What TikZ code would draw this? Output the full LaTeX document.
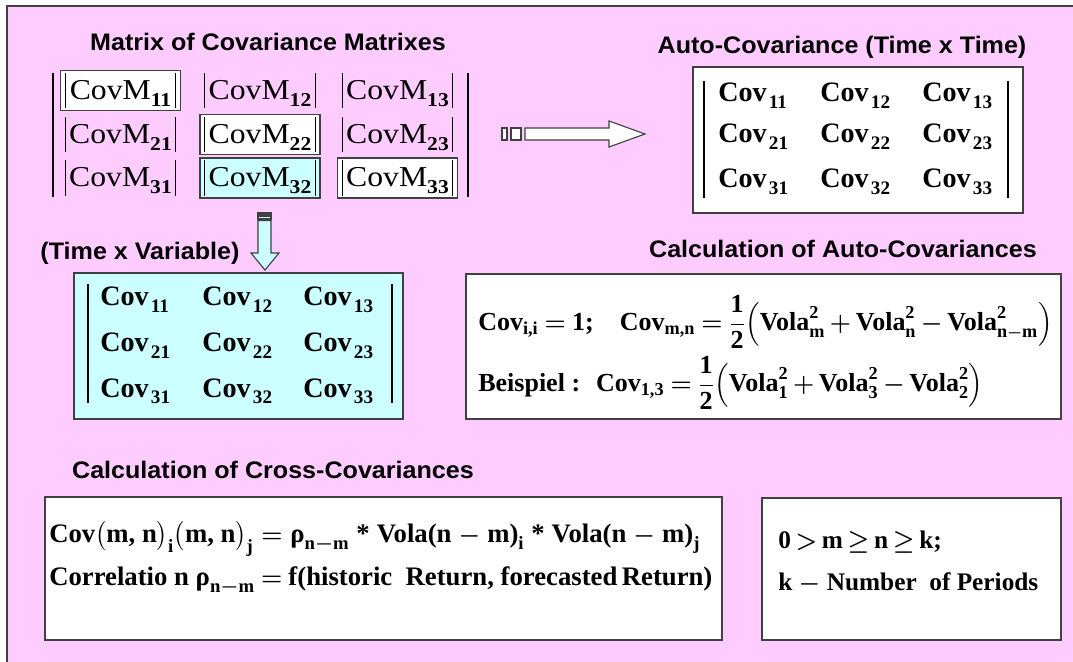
\documentclass[tikz,border=0pt]{standalone}
\usepackage{fontspec}
\usepackage{amsmath}
\setmainfont{Liberation Serif}
\newfontfamily\cellfont{Liberation Serif}[FakeStretch=1.1]
\newfontfamily\headfont{Liberation Sans}[FakeStretch=1.05]
\usetikzlibrary{positioning}

\definecolor{bgpink}{HTML}{FFCCFF}
\definecolor{paleCyan}{HTML}{CCFFFF}
\definecolor{frame}{HTML}{404040}

% cell helpers
\newcommand{\vbar}{\rule[-0.3em]{0.7pt}{1.22em}}
\newcommand{\lo}[1]{\raisebox{-0.24em}{\scalebox{0.68}{\bfseries #1}}}
\newcommand{\cvm}[1]{\vbar\hspace{0.12em}CovM\lo{#1}\hspace{0.12em}\vbar}
\newcommand{\cv}[1]{Cov\hspace{0.08em}\lo{#1}}
\newcommand{\tx}[1]{\text{#1}}
\newcommand{\tightmath}{\thickmuskip=3mu\relax\medmuskip=2mu\relax}
\newcommand{\loosemath}{\thickmuskip=4mu\relax\medmuskip=3mu\relax}
\newcommand{\widemath}{\thickmuskip=5mu\relax\medmuskip=4.5mu\relax}

\begin{document}
\begin{tikzpicture}[
    x=0.025cm, y=-0.025cm,
    head/.style={inner sep=0pt, font=\headfont\bfseries\fontsize{17}{19}\selectfont},
    cell/.style={minimum width=3cm, minimum height=1cm, inner sep=0pt,
                 font=\cellfont\fontsize{20.5}{22}\selectfont},
    cellbox/.style={cell, draw=frame, line width=0.9pt, fill=white},
    entry/.style={anchor=base west, inner sep=0pt,
                  font=\bfseries\fontsize{20}{22}\selectfont},
    panel/.style={draw=frame, line width=0.9pt, fill=white, inner sep=0pt},
    formula/.style={anchor=west, inner sep=0pt,
                    font=\bfseries\fontsize{18.5}{20}\selectfont\boldmath\loosemath},
    crossformula/.style={formula,
                    font=\bfseries\fontsize{19}{21}\selectfont\boldmath\widemath},
    periodtext/.style={formula,
                    font=\bfseries\fontsize{18}{20}\selectfont\boldmath\tightmath},
    bar/.style={draw=black, line width=0.8pt},
    blockarrow/.style={draw=frame, line width=0.8pt},
  ]

  % page and pink frame
  \fill[white] (0,0) rectangle (1073,662);
  \useasboundingbox (0,0) rectangle (1073,662);
  \fill[bgpink] (7,6) rectangle (1073,662);
  \draw[frame, line width=1pt] (7,662) -- (7,6) -- (1073,6);

  % titles
  \node[head] (tmatrix) at (268,42) {Matrix of Covariance Matrixes};
  \node[head] (tauto)   at (842,47) {Auto-Covariance (Time x Time)};
  \node[head] (tvar)    at (140,253) {(Time x Variable)};
  \node[head] (tcalc)   at (843,249) {Calculation of Auto-Covariances};
  \node[head] (tcross)  at (273,470) {Calculation of Cross-Covariances};

  % matrix of covariance matrixes
  \node[cellbox] (cm11) at (120.5,90.5) {\cvm{11}};
  \node[cell]    (cm12) at (260,90.5)   {\cvm{12}};
  \node[cell]    (cm13) at (397.5,90.5) {\cvm{13}};
  \node[cell]    (cm21) at (120.5,134.5) {\cvm{21}};
  \node[cellbox] (cm22) at (260,134.5)   {\cvm{22}};
  \node[cell]    (cm23) at (397.5,134.5) {\cvm{23}};
  \node[cell]    (cm31) at (120.5,178)   {\cvm{31}};
  \node[cellbox, fill=paleCyan] (cm32) at (260,178) {\cvm{32}};
  \node[cellbox] (cm33) at (397.5,178)   {\cvm{33}};
  \draw[bar] (53,73) -- (53,197);
  \draw[bar] (468,73) -- (468,197);

  % block arrow to the right
  \draw[blockarrow, fill=white] (502,128) rectangle (507,140);
  \draw[blockarrow, fill=white] (511,128) rectangle (521,140);
  \draw[blockarrow, fill=white] (525,128) -- (609,128) -- (609,121) -- (645,134)
    -- (609,147) -- (609,140) -- (525,140) -- cycle;

  % auto-covariance (time x time)
  \node[panel, minimum width=8.25cm, minimum height=3.65cm] (autobox) at (858,140) {};
  \draw[bar] (704,81) -- (704,198);
  \draw[bar] (1008,81) -- (1008,198);
  \node[entry] (a11) at (718,102) {\cv{11}};
  \node[entry] (a12) at (820,102) {\cv{12}};
  \node[entry] (a13) at (922,102) {\cv{13}};
  \node[entry] (a21) at (718,143) {\cv{21}};
  \node[entry] (a22) at (820,143) {\cv{22}};
  \node[entry] (a23) at (922,143) {\cv{23}};
  \node[entry] (a31) at (718,188) {\cv{31}};
  \node[entry] (a32) at (820,188) {\cv{32}};
  \node[entry] (a33) at (922,188) {\cv{33}};

  % block arrow down
  \draw[blockarrow, fill=frame] (258,213) rectangle (271,215);
  \draw[blockarrow, fill=paleCyan] (258,216.5) rectangle (271,219);
  \draw[blockarrow, fill=paleCyan] (258,220.5) -- (258,253) -- (251,253) -- (265,270)
    -- (279,253) -- (271,253) -- (271,220.5) -- cycle;

  % time x variable
  \node[panel, fill=paleCyan, minimum width=8.225cm, minimum height=3.65cm] (varbox) at (238.5,346) {};
  \draw[bar] (88,284) -- (88,403);
  \draw[bar] (392,284) -- (392,403);
  \node[entry] (v11) at (100,306) {\cv{11}};
  \node[entry] (v12) at (202,306) {\cv{12}};
  \node[entry] (v13) at (303,306) {\cv{13}};
  \node[entry] (v21) at (100,352) {\cv{21}};
  \node[entry] (v22) at (202,352) {\cv{22}};
  \node[entry] (v23) at (303,352) {\cv{23}};
  \node[entry] (v31) at (100,397) {\cv{31}};
  \node[entry] (v32) at (202,397) {\cv{32}};
  \node[entry] (v33) at (303,397) {\cv{33}};

  % auto-covariance formulas
  \node[panel, minimum width=14.875cm, minimum height=3.625cm] (calcbox) at (763.5,346.5) {};
  \node[formula] (f1) at (478,322)
    {$\tx{Cov}_{\tx{i,i}}=\tx{1;}\quad\tx{Cov}_{\tx{m,n}}=\dfrac{\tx{1}}{\tx{2}}\Bigl(\tx{Vola}^{\tx{2}}_{\tx{m}}+\tx{Vola}^{\tx{2}}_{\tx{n}}-\tx{Vola}^{\tx{2}}_{\tx{n}-\tx{m}}\Bigr)$};
  \node[formula] (f2) at (478,383)
    {Beispiel :\; $\tx{Cov}_{\tx{1,3}}=\dfrac{\tx{1}}{\tx{2}}\Bigl(\tx{Vola}^{\tx{2}}_{\tx{1}}+\tx{Vola}^{\tx{2}}_{\tx{3}}-\tx{Vola}^{\tx{2}}_{\tx{2}}\Bigr)$};

  % cross-covariance formulas
  \node[panel, minimum width=16.925cm, minimum height=3.575cm] (crossbox) at (383.5,568.5) {};
  \node[crossformula] (f3) at (49,539)
    {$\tx{Cov}\bigl(\tx{m, n}\bigr)_{\tx{i}}\bigl(\tx{m, n}\bigr)_{\tx{j}}=\tx{ρ}_{\tx{n}-\tx{m}}\mathbin{\tx{*}}\tx{Vola(n}-\tx{m)}_{\tx{i}}\mathbin{\tx{*}}\tx{Vola(n}-\tx{m)}_{\tx{j}}$};
  \node[crossformula, font=\bfseries\fontsize{19}{21}\selectfont\boldmath\loosemath] (f4) at (49,581)
    {Correlatio n $\tx{ρ}_{\tx{n}-\tx{m}}=\tx{f(historic\ \ Return, forecasted\,Return)}$};

  % periods
  \node[panel, minimum width=7.475cm, minimum height=3.55cm] (periodbox) at (911.5,569) {};
  \node[periodtext] (p1) at (778,542) {$\tx{0}>\tx{m}\geq\tx{n}\geq\tx{k;}$};
  \node[periodtext] (p2) at (778,583) {k $-$ Number\ \ of Periods};

\end{tikzpicture}
\end{document}
